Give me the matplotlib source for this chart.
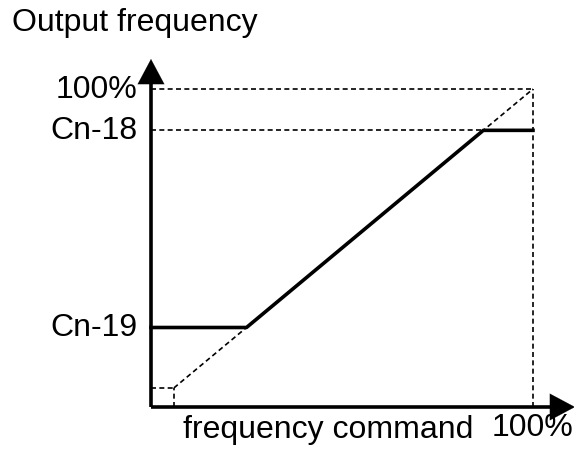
import matplotlib.pyplot as plt

# frequency command / output frequency in percent
full_scale = 100.0
bias = 6.0          # dashed start of the reference line
cn18 = 87.0         # upper limit
cn19 = 25.0         # lower limit

y_ticks = [full_scale, cn18, cn19]
y_tick_labels = ["100%", "Cn-18", "Cn-19"]

plt.rcParams['font.family'] = ['Liberation Sans', 'DejaVu Sans']

fig = plt.figure(figsize=(5.74, 4.52), dpi=100)
ax = fig.add_axes([0, 0, 1, 1])
ax.axis('off')

# pixel mapping: origin at (151, 408), 100% at (533, 90)
sx = (533 - 151) / full_scale
sy = (408 - 90) / full_scale
ax.set_xlim(-151 / sx, (574 - 151) / sx)
ax.set_ylim(-(452 - 408) / sy, 408 / sy)

x_top = (575 - 151) / sx
y_top = (408 - 60) / sy

# axes with arrows
ax.plot([0, 0], [0, y_top - 5], color='black', lw=2.6, solid_capstyle='butt')
ax.plot([0, x_top - 5], [0, 0], color='black', lw=2.6, solid_capstyle='butt')
arrow = dict(arrowstyle='-|>,head_length=0.9,head_width=0.48', color='black',
             lw=0.1, mutation_scale=20, shrinkA=0, shrinkB=0)
ax.annotate('', xy=(0, y_top), xytext=(0, y_top - 10), arrowprops=arrow,
            annotation_clip=False)
ax.annotate('', xy=(x_top, 0), xytext=(x_top - 10, 0), arrowprops=arrow,
            annotation_clip=False)

dash = dict(color='black', lw=1.2, linestyle=(0, (3, 2)))
# 100% box
ax.plot([0, full_scale], [full_scale, full_scale], **dash)
ax.plot([full_scale, full_scale], [0, full_scale], **dash)
# reference line and bias corner
ax.plot([bias, full_scale], [bias, full_scale], **dash)
ax.plot([0, bias], [bias, bias], **dash)
ax.plot([bias, bias], [0, bias], **dash)
# upper limit guide
ax.plot([0, cn18], [cn18, cn18], **dash)

# limited output
out_x = [0, cn19, cn18, full_scale]
out_y = [cn19, cn19, cn18, cn18]
ax.plot(out_x, out_y, color='black', lw=2.6)

fs = 23
for v, lab in zip(y_ticks, y_tick_labels):
    ax.text(-14 / sx, v, lab, ha='right', va='center', fontsize=fs)

ax.text(-139 / sx, (408 - 23) / sy, "Output frequency", ha='left', va='center', fontsize=fs)
ax.text(32 / sx, -(430 - 408) / sy, "frequency command", ha='left', va='center', fontsize=fs)
ax.text(full_scale, -(428 - 408) / sy, "100%", ha='center', va='center', fontsize=fs)

fig.savefig('out.png', dpi=100)
